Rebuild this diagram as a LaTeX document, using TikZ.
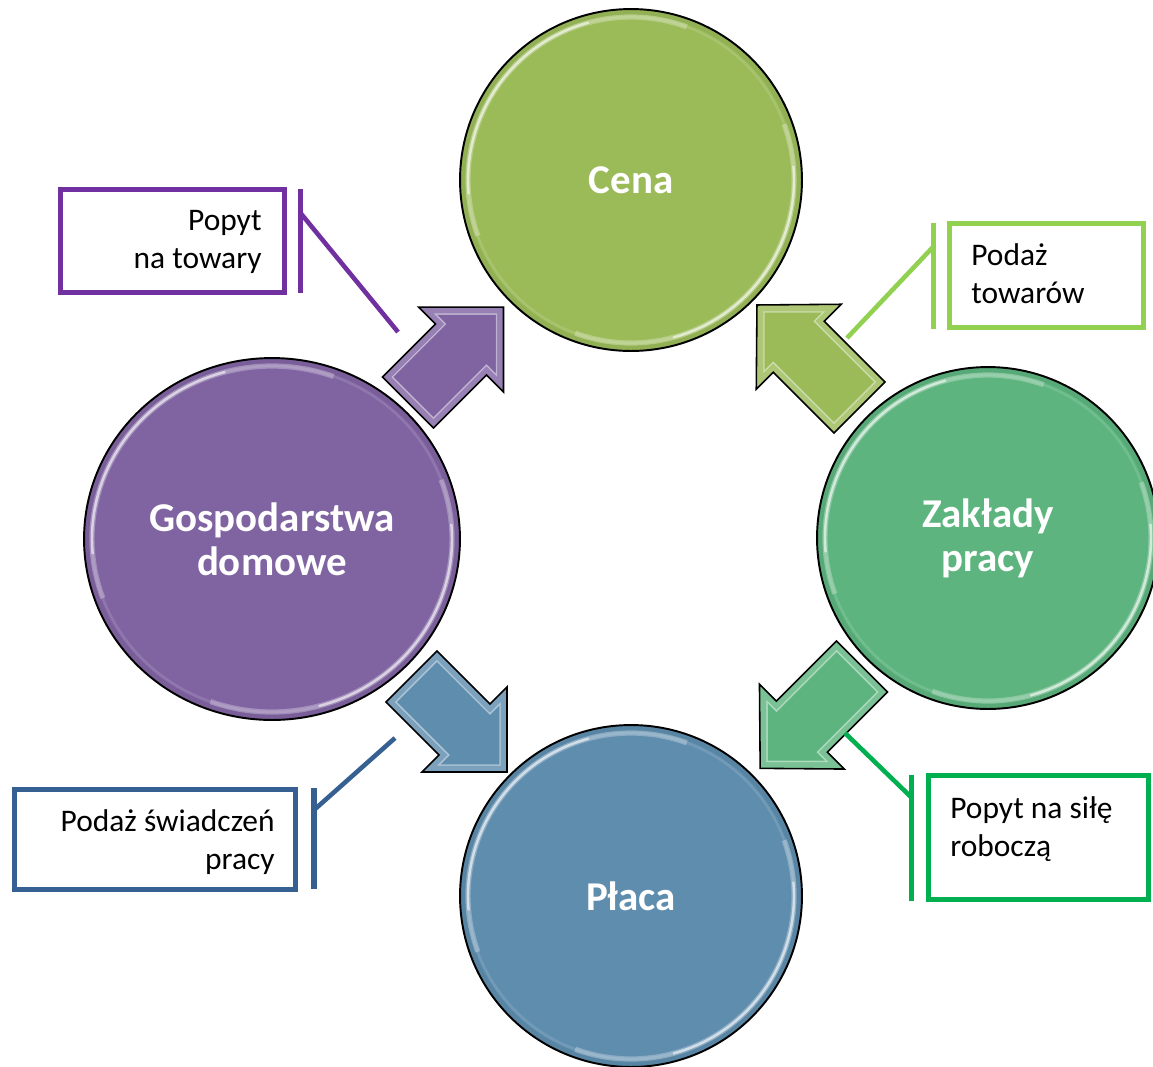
\documentclass[tikz,border=0pt]{standalone}
\usepackage{fontspec}
\setmainfont{Carlito}
\usetikzlibrary{shapes.geometric}

\definecolor{cenaC}{HTML}{9BBB59}
\definecolor{domC}{HTML}{8064A2}
\definecolor{firmC}{HTML}{5DB47E}
\definecolor{wageC}{HTML}{5F8DAE}
\definecolor{lnPurple}{HTML}{7030A0}
\definecolor{lnLime}{HTML}{92D050}
\definecolor{lnBlue}{HTML}{376092}
\definecolor{lnGreen}{HTML}{00B050}

\tikzset{
  disc/.style={draw=black, line width=1.1pt, text=white, align=center, inner sep=0pt,
    font=\bfseries\fontsize{23.3}{25}\selectfont},
  % soft bevel: slightly darker rim and light highlight arcs inside the edge
  bevel/.style n args={3}{path picture={
    \draw[#3!70!black, opacity=.18, line width=3pt]
      (path picture bounding box.center) ellipse [x radius=#1-3, y radius=#2-3];
    \draw[white, opacity=.12, line width=1.5pt]
      (path picture bounding box.center) ellipse [x radius=#1-8, y radius=#2-8];
    \draw[white, opacity=.28, line width=3pt]
      ([shift={(160:{#1-8} and {#2-8})}]path picture bounding box.center)
      arc [start angle=160, end angle=290, x radius=#1-8, y radius=#2-8];
    \draw[white, opacity=.55, line width=1.4pt]
      ([shift={(175:{#1-8} and {#2-8})}]path picture bounding box.center)
      arc [start angle=175, end angle=255, x radius=#1-8, y radius=#2-8];
    \draw[white, opacity=.28, line width=3pt]
      ([shift={(340:{#1-8} and {#2-8})}]path picture bounding box.center)
      arc [start angle=340, end angle=470, x radius=#1-8, y radius=#2-8];
    \draw[white, opacity=.55, line width=1.4pt]
      ([shift={(355:{#1-8} and {#2-8})}]path picture bounding box.center)
      arc [start angle=355, end angle=435, x radius=#1-8, y radius=#2-8];
  }},
  callbox/.style={draw=#1, line width=2.85pt, rectangle, inner sep=0pt},
  calltext/.style={font=\fontsize{17.9}{21.6}\selectfont, inner sep=0pt, text=black},
  leader/.style={draw=#1, line width=2.6pt},
  barline/.style={draw=#1, line width=2.85pt},
}

% block arrow: #1 tail centre, #2 direction, #3 length, #4 shaft length, #5 colour
\newcommand\flowarrow[5]{%
  \begin{scope}[shift={(#1)}, rotate=#2]
    \fill[#5!82!white]
      (0,-36) -- (#4,-36) -- (#4,-60) -- (#3,0) -- (#4,60) -- (#4,36) -- (0,36) -- cycle;
    \fill[#5]
      (7,-29) -- ({#4+7},-29) -- ({#4+7},{-(#3-#4-16.9)}) -- ({#3-9.9},0)
      -- ({#4+7},{#3-#4-16.9}) -- ({#4+7},29) -- (7,29) -- cycle;
    \draw[white, opacity=.45, line width=0.8pt]
      (7,-29) -- ({#4+7},-29) -- ({#4+7},{-(#3-#4-16.9)}) -- ({#3-9.9},0)
      -- ({#4+7},{#3-#4-16.9}) -- ({#4+7},29) -- (7,29) -- cycle;
    \draw[black, line width=0.9pt, line join=miter]
      (0,-36) -- (#4,-36) -- (#4,-60) -- (#3,0) -- (#4,60) -- (#4,36) -- (0,36) -- cycle;
  \end{scope}}

\begin{document}
\begin{tikzpicture}[x=0.02cm, y=-0.02cm]
  \useasboundingbox (0,0) rectangle (1153,1066);
  \fill[white] (0,0) rectangle (1153,1066);

  % the four circles
  \node[disc, circle, fill=cenaC, minimum size=6.84cm, bevel={171}{171}{cenaC}]
    (cena) at (631,180) {Cena};
  \node[disc, ellipse, fill=domC, minimum width=7.52cm, minimum height=7.24cm,
    bevel={188}{181}{domC}]
    (dom) at (272,539) {Gospodarstwa\\domowe};
  \node[disc, circle, fill=firmC, minimum size=6.84cm, bevel={171}{171}{firmC}]
    (firm) at (988,538) {Zakłady\\pracy};
  \node[disc, circle, fill=wageC, minimum size=6.84cm, bevel={171}{171}{wageC}]
    (wage) at (631,896) {Płaca};

  % flows between the circles
  \flowarrow{408,402.5}{45}{135}{75}{domC}
  \flowarrow{859.5,407.5}{135}{145}{86}{cenaC}
  \flowarrow{411.5,676.5}{-45}{135}{75}{wageC}
  \flowarrow{862,666.5}{-135}{144}{85}{firmC}

  % callout boxes
  \node[callbox=lnPurple, minimum width=4.48cm, minimum height=2.06cm] (boxA) at (172.5,241) {};
  \node[callbox=lnLime, minimum width=3.88cm, minimum height=2.08cm] (boxB) at (1046.5,275.5) {};
  \node[callbox=lnBlue, minimum width=5.62cm, minimum height=2.0cm] (boxC) at (155,839.5) {};
  \node[callbox=lnGreen, minimum width=4.4cm, minimum height=2.48cm] (boxD) at (1038.5,837.5) {};

  \node[calltext, align=right, anchor=east] (tA) at (262,242) {Popyt\\na towary};
  \node[calltext, align=left, anchor=west] (tB) at (971,274) {Podaż\\towarów};
  \node[calltext, align=right, anchor=east] (tC) at (275,842) {Podaż świadczeń\\pracy};
  \node[calltext, align=left, anchor=west] (tD) at (950,829) {Popyt na siłę\\roboczą};

  % callout bars and leaders
  \coordinate (aTop) at (300.5,189);  \coordinate (aBot) at (300.5,293);
  \coordinate (aKnee) at (300.5,213); \coordinate (aEnd) at (398,332);
  \draw[barline=lnPurple] (aTop) -- (aBot);
  \draw[leader=lnPurple] (aKnee) -- (aEnd);

  \coordinate (bTop) at (933,223);  \coordinate (bBot) at (933,329);
  \coordinate (bKnee) at (933,247); \coordinate (bEnd) at (847,338);
  \draw[barline=lnLime] (bTop) -- (bBot);
  \draw[leader=lnLime] (bKnee) -- (bEnd);

  \coordinate (cTop) at (314,788);  \coordinate (cBot) at (314,889);
  \coordinate (cKnee) at (314,810); \coordinate (cEnd) at (395,738);
  \draw[barline=lnBlue] (cTop) -- (cBot);
  \draw[leader=lnBlue] (cKnee) -- (cEnd);

  \coordinate (dTop) at (911,775);  \coordinate (dBot) at (911,901);
  \coordinate (dKnee) at (911,797); \coordinate (dEnd) at (845,733);
  \draw[barline=lnGreen] (dTop) -- (dBot);
  \draw[leader=lnGreen] (dKnee) -- (dEnd);
\end{tikzpicture}
\end{document}
